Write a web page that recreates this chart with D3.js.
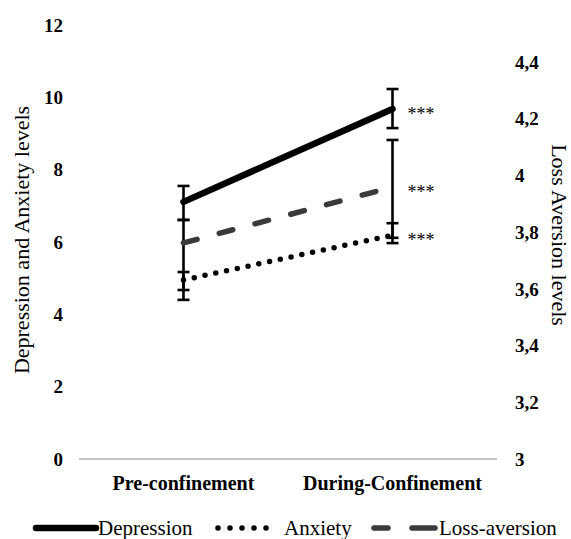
<!DOCTYPE html>
<head>
  <meta charset="utf-8">
  <script src="https://d3js.org/d3.v7.min.js"></script>
  <style>
    body { margin:0; background:#fff; }
    text { font-family: "Liberation Serif", "Times New Roman", serif; fill:#000; }
  </style>
</head>
<body>
  <svg width="571" height="539"></svg>
  <script>
    // data
    var categories = ["Pre-confinement", "During-Confinement"];
    var depression = [7.11, 9.68];
    var depressionLo = [6.61, 9.15];
    var depressionHi = [7.55, 10.23];
    var anxiety = [4.95, 6.19];
    var anxietyLo = [4.40, 5.97];
    var anxietyHi = [5.17, 6.52];
    var lossAversion = [3.762, 3.959];
    var lossLo = [3.596, 3.78];
    var lossHi = [3.843, 4.125];
    var leftTicks = [0, 2, 4, 6, 8, 10, 12];
    var rightTicks = [3, 3.2, 3.4, 3.6, 3.8, 4, 4.2, 4.4];
    var stars = ["***", "***", "***"];

    var svg = d3.select("svg");

    var x = d3.scaleBand().domain(categories).range([79, 497]);
    var yL = d3.scaleLinear().domain([0, 12]).range([459, 25]);
    var yR = d3.scaleLinear().domain([3, 4.4]).range([459, 62]);
    var cx = function(c) { return x(c) + x.bandwidth() / 2; };

    // axis line at zero
    svg.append("line")
      .attr("x1", x.range()[0]).attr("x2", x.range()[1])
      .attr("y1", yL(0)).attr("y2", yL(0))
      .attr("stroke", "#b3b3b3").attr("stroke-width", 1.3);

    // tick labels
    svg.selectAll(".lt").data(leftTicks).enter().append("text")
      .attr("x", 63).attr("y", function(d) { return yL(d); })
      .attr("dy", "0.35em").attr("text-anchor", "end")
      .style("font-size", "19px").style("font-weight", "bold")
      .text(function(d) { return d; });

    svg.selectAll(".rt").data(rightTicks).enter().append("text")
      .attr("x", 515).attr("y", function(d) { return yR(d); })
      .attr("dy", "0.35em")
      .style("font-size", "19px").style("font-weight", "bold")
      .text(function(d) { return String(+d.toFixed(1)).replace(".", ","); });

    svg.selectAll(".cat").data(categories).enter().append("text")
      .attr("x", cx).attr("y", 483).attr("dy", "0.35em")
      .attr("text-anchor", "middle")
      .style("font-size", "20px").style("font-weight", "bold")
      .text(function(d) { return d; });

    // axis titles
    svg.append("text")
      .attr("transform", "translate(21,240) rotate(-90)")
      .attr("dy", "0.35em").attr("text-anchor", "middle")
      .style("font-size", "22px")
      .text("Depression and Anxiety levels");
    svg.append("text")
      .attr("transform", "translate(560,235) rotate(90)")
      .attr("dy", "0.35em").attr("text-anchor", "middle")
      .style("font-size", "22px")
      .text("Loss Aversion levels");

    // error bars
    function errorBars(lo, hi, y) {
      var g = svg.append("g").attr("stroke", "#000").attr("stroke-width", 2.6);
      categories.forEach(function(c, i) {
        g.append("line").attr("x1", cx(c)).attr("x2", cx(c))
          .attr("y1", y(lo[i])).attr("y2", y(hi[i]));
        [lo[i], hi[i]].forEach(function(v) {
          g.append("line").attr("x1", cx(c) - 6).attr("x2", cx(c) + 6)
            .attr("y1", y(v)).attr("y2", y(v));
        });
      });
    }
    errorBars(depressionLo, depressionHi, yL);
    errorBars(anxietyLo, anxietyHi, yL);
    errorBars(lossLo, lossHi, yR);

    // series lines
    function seriesLine(vals, y) {
      return d3.line()
        .x(function(d, i) { return cx(categories[i]); })
        .y(function(d) { return y(d); })(vals);
    }
    svg.append("path").attr("d", seriesLine(lossAversion, yR))
      .attr("fill", "none").attr("stroke", "#3a3a3a").attr("stroke-width", 5.5)
      .attr("stroke-linecap", "round").attr("stroke-dasharray", "14 23");
    svg.append("path").attr("d", seriesLine(anxiety, yL))
      .attr("fill", "none").attr("stroke", "#000").attr("stroke-width", 5.5)
      .attr("stroke-linecap", "round").attr("stroke-dasharray", "0 11");
    svg.append("path").attr("d", seriesLine(depression, yL))
      .attr("fill", "none").attr("stroke", "#000").attr("stroke-width", 6.5)
      .attr("stroke-linecap", "round");

    // significance stars
    var starY = [yL(depression[1]), yR(lossAversion[1]), yL(anxiety[1])];
    svg.selectAll(".star").data(stars).enter().append("text")
      .attr("x", cx(categories[1]) + 15).attr("y", function(d, i) { return starY[i]; })
      .attr("dy", "0.6em")
      .style("font-size", "18px")
      .text(function(d) { return d; });

    // legend
    var lg = svg.append("g");
    lg.append("line").attr("x1", 36).attr("x2", 96).attr("y1", 528).attr("y2", 528)
      .attr("stroke", "#000").attr("stroke-width", 6.5).attr("stroke-linecap", "round");
    lg.append("text").attr("x", 98).attr("y", 528).attr("dy", "0.35em")
      .style("font-size", "21px").text("Depression");
    lg.append("line").attr("x1", 218).attr("x2", 278).attr("y1", 528).attr("y2", 528)
      .attr("stroke", "#000").attr("stroke-width", 5.5).attr("stroke-linecap", "round")
      .attr("stroke-dasharray", "0 12");
    lg.append("text").attr("x", 284).attr("y", 528).attr("dy", "0.35em")
      .style("font-size", "21px").text("Anxiety");
    lg.append("line").attr("x1", 374).attr("x2", 435).attr("y1", 528).attr("y2", 528)
      .attr("stroke", "#3a3a3a").attr("stroke-width", 5.5).attr("stroke-linecap", "round")
      .attr("stroke-dasharray", "14 24 30");
    lg.append("text").attr("x", 439).attr("y", 528).attr("dy", "0.35em")
      .style("font-size", "21px").text("Loss-aversion");
  </script>
</body>
